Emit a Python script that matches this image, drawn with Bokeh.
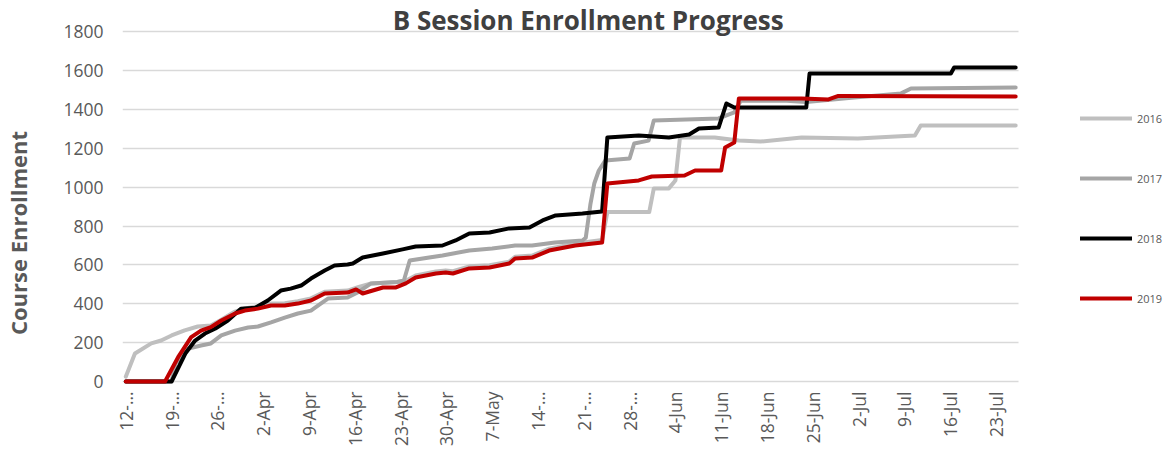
import math
from bokeh.plotting import figure
from bokeh.models import Range1d, FixedTicker, Label, Legend, LegendItem, Grid
from bokeh.embed import file_html
from bokeh.resources import INLINE

# ---- data (days since 12-Mar, enrollment) ----
tick_days = [0, 7, 14, 21, 28, 35, 42, 49, 56, 63, 70, 77, 84, 91, 98, 105, 112, 119, 126, 133]
tick_labels = ["12-…", "19-…", "26-…", "2-Apr", "9-Apr", "16-Apr", "23-Apr", "30-Apr", "7-May",
               "14-…", "21-…", "28-…", "4-Jun", "11-Jun", "18-Jun", "25-Jun", "2-Jul", "9-Jul",
               "16-Jul", "23-Jul"]
y_ticks = [0, 200, 400, 600, 800, 1000, 1200, 1400, 1600, 1800]

days_2016 = [0, 1.4, 3.9, 5.4, 7, 9, 11, 13, 14.6, 16.7, 18.2, 20.2, 22.2, 24.3, 26.3, 28.3, 30.4,
             33.9, 35.5, 37.5, 41.5, 42.8, 44.3, 47.4, 48.9, 50, 52.5, 55.6, 58.6, 59.5, 62.1, 64.7,
             68.7, 72.8, 73.6, 80, 80.7, 83, 84, 84.7, 90, 93.7, 97, 103.3, 111.9, 117.6, 120.6,
             121.5, 136]
vals_2016 = [25, 144, 196, 211, 237, 263, 283, 288, 318, 360, 376, 387, 402, 403, 413, 428, 462,
             468, 485, 505, 512, 518, 546, 566, 572, 568, 593, 598, 617, 642, 648, 684,
             711, 728, 872, 872, 994, 994, 1035, 1256, 1256, 1240, 1235, 1256, 1251, 1261, 1266,
             1318, 1318]

days_2017 = [0, 7, 7.6, 9.6, 11.5, 13, 14.6, 16.7, 18.7, 20.2, 22.2, 24.3, 26.3, 28.3, 29.8, 30.9,
             33.9, 35.5, 37.5, 41.5, 42.5, 43.4, 48.4, 52.5, 56, 59.5, 62.1, 65.6, 69.8, 70.3, 71.0,
             71.6, 72.3, 73.3, 77, 77.7, 79.9, 80.7, 90.6, 93, 94, 101, 104, 111.3, 118.5, 120, 136]
vals_2017 = [0, 0, 93, 170, 185, 196, 237, 262, 278, 283, 304, 329, 350, 365, 401, 427,
             432, 460, 505, 512, 520, 623, 649, 674, 685, 700, 700, 716, 726, 740, 910,
             1019, 1086, 1138, 1148, 1225, 1240, 1343, 1354, 1385, 1446, 1445, 1438, 1462, 1483,
             1508, 1513]

days_2018 = [0, 7, 9.1, 10.6, 12.1, 13.7, 15.6, 17.6, 19.8, 21.7, 23.7, 25.2, 26.8, 28.3, 30.4,
             31.9, 33.9, 34.7, 36.2, 39.3, 42.3, 44.3, 48.4, 50.4, 52.5, 55.6, 58.6, 61.7, 63.7,
             65.7, 69.8, 72.8, 73.6, 78.4, 83, 86.1, 87.6, 90.6, 91.8, 93, 104, 104.5, 126.1,
             126.6, 136]
vals_2018 = [0, 0, 144, 211, 247, 273, 314, 375, 380, 417, 468, 478, 494, 530, 571,
             597, 602, 607, 638, 659, 680, 695, 700, 726, 762, 767, 788, 793, 829,
             855, 865, 875, 1256, 1266, 1256, 1271, 1302, 1307, 1431, 1410, 1410, 1585, 1585,
             1616, 1616]

days_2019 = [0, 6, 8, 10, 11.5, 13, 14.6, 16.7, 18.2, 20.2, 22.2, 24.3, 26.3, 28.3, 30.4, 33.9,
             35.2, 36.2, 39.3, 41.3, 42.8, 44.3, 47.4, 48.9, 50, 52.5, 55.6, 58.6, 59.5, 62.1,
             64.7, 68.7, 72.8, 73.6, 78.4, 80.4, 85.4, 87, 91, 91.6, 93, 93.7, 103.3, 107.4,
             108.9, 136]
vals_2019 = [0, 0, 125, 228, 262, 280, 314, 350, 365, 375, 391, 391, 401, 417, 453, 458,
             474, 453, 484, 484, 505, 535, 556, 561, 556, 582, 587, 607, 633, 638,
             674, 700, 715, 1019, 1035, 1055, 1060, 1086, 1086, 1205, 1230, 1457, 1457, 1452,
             1470, 1467]

series = [("2016", days_2016, vals_2016, "#BFBFBF"),
          ("2017", days_2017, vals_2017, "#A5A5A5"),
          ("2018", days_2018, vals_2018, "#000000"),
          ("2019", days_2019, vals_2019, "#C00000")]

FONT = "Open Sans"
GREY_TXT = "#595959"

W, H = 1163, 455
PX_PER_DAY = 6.562
PX_PER_UNIT = 0.19428
X0 = -0.5            # left edge of plot area (day)
X1 = 136.5           # right edge of the data area (day)
x_end = X1 + (W - 1018) / PX_PER_DAY
y_top = 1800 + 31.3 / PX_PER_UNIT
y_bot = -4.0 / PX_PER_UNIT

p = figure(width=W, height=H, output_backend="svg", toolbar_location=None,
           title_location=None,
           x_range=Range1d(X0, x_end), y_range=Range1d(y_bot, y_top),
           min_border_left=119, min_border_right=0, min_border_top=0,
           min_border_bottom=H - 385)
p.outline_line_color = None
p.background_fill_color = "white"
p.border_fill_color = "white"

# axes
p.xaxis.ticker = FixedTicker(ticks=tick_days)
p.xaxis.major_label_overrides = {d: t for d, t in zip(tick_days, tick_labels)}
p.xaxis.major_label_orientation = math.pi / 2
p.yaxis.ticker = FixedTicker(ticks=y_ticks)
for ax in (p.xaxis[0], p.yaxis[0]):
    ax.axis_line_color = None
    ax.major_tick_line_color = None
    ax.minor_tick_line_color = None
    ax.major_tick_out = 0
    ax.major_tick_in = 0
    ax.major_label_text_font = FONT
    ax.major_label_text_font_size = "17.5px"
    ax.major_label_text_color = GREY_TXT
p.xaxis.major_label_standoff = 6
p.yaxis.major_label_standoff = 19

# y axis title (padded with no-break spaces so it sits lower, as in the original)
p.yaxis.axis_label = "Course Enrollment" + "\u00a0" * 14
p.yaxis.axis_label_text_font = FONT
p.yaxis.axis_label_text_font_style = "bold"
p.yaxis.axis_label_text_font_size = "22px"
p.yaxis.axis_label_text_color = GREY_TXT
p.yaxis.axis_label_standoff = 27

# horizontal gridlines, limited to the data area
p.xgrid.grid_line_color = None
if "cross_bounds" in Grid.properties():
    p.ygrid.ticker = FixedTicker(ticks=y_ticks)
    p.ygrid.cross_bounds = (X0, X1)
    p.ygrid.grid_line_color = "#D9D9D9"
    p.ygrid.grid_line_width = 1.5
else:
    p.ygrid.grid_line_color = None
    p.segment(x0=X0, x1=X1, y0=y_ticks, y1=y_ticks, line_color="#D9D9D9", line_width=1.5)

renderers = []
for name, d, v, c in series:
    r = p.line(d, v, line_color=c, line_width=4, line_join="round", line_cap="round")
    renderers.append((name, r))

legend = Legend(items=[LegendItem(label=n, renderers=[r]) for n, r in renderers],
                location=(1077 - 119, 385 - 308), orientation="vertical",
                padding=0, margin=0, spacing=40, glyph_width=52, glyph_height=20,
                label_height=20, label_standoff=5,
                label_text_font=FONT, label_text_font_size="11px",
                label_text_color=GREY_TXT,
                border_line_color=None, background_fill_alpha=0)
p.add_layout(legend)

title = Label(x=X0 + (586 - 119) / PX_PER_DAY, y=1800 + 11.5 / PX_PER_UNIT,
              text="B Session Enrollment Progress",
              text_font=FONT, text_font_style="bold", text_font_size="26px",
              text_color="#404040", text_align="center", text_baseline="alphabetic")
p.add_layout(title)

open("out.html", "w").write(file_html(p, INLINE))
